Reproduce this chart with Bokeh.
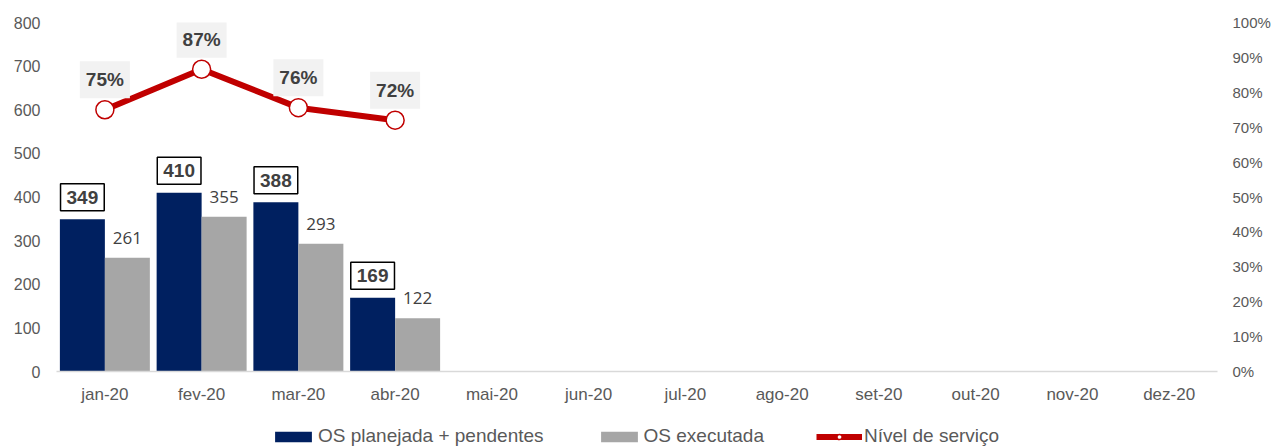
from bokeh.plotting import figure
from bokeh.layouts import column
from bokeh.models import (ColumnDataSource, FactorRange, Range1d, LinearAxis, FixedTicker,
                          NumeralTickFormatter, LabelSet, Label, Legend, LegendItem)
from bokeh.transform import dodge
from bokeh.core.properties import value
from bokeh.embed import file_html
from bokeh.resources import INLINE

# ---- data ----
months = ["jan-20", "fev-20", "mar-20", "abr-20", "mai-20", "jun-20",
          "jul-20", "ago-20", "set-20", "out-20", "nov-20", "dez-20"]
data_months = ["jan-20", "fev-20", "mar-20", "abr-20"]
planned = [349, 410, 388, 169]          # OS planejada + pendentes
executed = [261, 355, 293, 122]         # OS executada
service_level = [0.75, 0.866, 0.756, 0.72]  # Nível de serviço
left_ticks = [0, 100, 200, 300, 400, 500, 600, 700, 800]
right_ticks = [0, 0.1, 0.2, 0.3, 0.4, 0.5, 0.6, 0.7, 0.8, 0.9, 1.0]
series_names = ["OS planejada + pendentes", "OS executada", "Nível de serviço"]

NAVY = "#002060"
GREY = "#A6A6A6"
RED = "#C00000"
TXT = "#595959"
DARK = "#404040"
FONT = "Liberation Sans"

src = ColumnDataSource(dict(
    month=data_months,
    planned=planned,
    executed=executed,
    executed_txt=[str(v) for v in executed],
    level=service_level,
))

p = figure(width=1280, height=410, x_range=FactorRange(*months), y_range=Range1d(0, 800),
           output_backend="svg", toolbar_location=None,
           min_border_left=56, min_border_right=63, min_border_top=22, min_border_bottom=39)
p.outline_line_color = None
p.xgrid.grid_line_color = None
p.ygrid.grid_line_color = None
p.x_range.range_padding = 0
p.extra_y_ranges = {"pct": Range1d(0, 1)}

BW = 0.465
nb = p.vbar(x=dodge("month", -BW / 2, range=p.x_range), top="planned", width=BW,
            source=src, fill_color=NAVY, line_color=None)
gb = p.vbar(x=dodge("month", BW / 2, range=p.x_range), top="executed", width=BW,
            source=src, fill_color=GREY, line_color=None)

ln = p.line(x="month", y="level", source=src, y_range_name="pct",
            line_color=RED, line_width=6)
mk = p.scatter(x="month", y="level", source=src, y_range_name="pct", marker="circle",
               size=18, fill_color="white", line_color=RED, line_width=1.5)

# grey bar labels
p.add_layout(LabelSet(x=dodge("month", BW / 2, range=p.x_range), y="executed", text="executed_txt",
                      source=src, y_offset=20, text_align="center", text_baseline="middle",
                      text_font=value("Open Sans"), text_font_size="17px", text_color=DARK))

# boxed navy labels & percent labels
for i, m in enumerate(data_months):
    xc = months.index(m) + 0.5
    p.add_layout(Label(x=xc - BW / 2, y=planned[i], text=str(planned[i]), y_offset=22,
                       text_align="center", text_baseline="middle",
                       text_font=FONT, text_font_size="19px", text_font_style="bold",
                       text_color=DARK, background_fill_color="white",
                       border_line_color="black", border_line_width=1.5, padding=(6, 7)))
    p.add_layout(Label(x=xc, y=service_level[i], y_range_name="pct",
                       text=f"{round(service_level[i] * 100)}%", y_offset=30,
                       text_align="center", text_baseline="middle",
                       text_font=FONT, text_font_size="19px", text_font_style="bold",
                       text_color=DARK, background_fill_color="#F2F2F2",
                       border_line_color=None, padding=(6, 8)))

# axes
ya = p.yaxis[0]
ya.ticker = FixedTicker(ticks=left_ticks)
ya.axis_line_color = None
ya.major_tick_line_color = None
ya.major_tick_out = 0
ya.minor_tick_line_color = None
ya.major_label_standoff = 16
ya.major_label_text_font = FONT
ya.major_label_text_font_size = "16px"
ya.major_label_text_color = TXT

ra = LinearAxis(y_range_name="pct", ticker=FixedTicker(ticks=right_ticks),
                formatter=NumeralTickFormatter(format="0%"))
ra.axis_line_color = None
ra.major_tick_line_color = None
ra.major_tick_out = 0
ra.minor_tick_line_color = None
ra.major_label_standoff = 15
ra.major_label_text_font = FONT
ra.major_label_text_font_size = "15px"
ra.major_label_text_color = TXT
p.add_layout(ra, "right")

xa = p.xaxis[0]
xa.axis_line_color = "#D9D9D9"
xa.axis_line_width = 1.5
xa.major_tick_line_color = None
xa.major_tick_out = 0
xa.minor_tick_line_color = None
xa.major_label_standoff = 13
xa.major_label_text_font = FONT
xa.major_label_text_font_size = "17px"
xa.major_label_text_color = TXT

# ---- legend strip (separate small figure so the legend is not clipped) ----
lg = figure(width=1280, height=37, x_range=Range1d(0, 1), y_range=Range1d(0, 1),
            output_backend="svg", toolbar_location=None,
            x_axis_type=None, y_axis_type=None,
            min_border_left=0, min_border_right=0, min_border_top=0, min_border_bottom=0)
lg.outline_line_color = None
lg.xgrid.grid_line_color = None
lg.ygrid.grid_line_color = None
nan = float("nan")
lsrc = ColumnDataSource(dict(x=[nan], y=[nan]))
lnb = lg.vbar(x="x", top="y", width=0.1, source=lsrc, fill_color=NAVY, line_color=None)
lgb = lg.vbar(x="x", top="y", width=0.1, source=lsrc, fill_color=GREY, line_color=None)
lln = lg.line(x="x", y="y", source=lsrc, line_color=RED, line_width=6)
lmk = lg.scatter(x="x", y="y", source=lsrc, marker="circle", size=18, fill_color="white",
                 line_color=RED, line_width=1.5)

legend = Legend(items=[
    LegendItem(label=series_names[0], renderers=[lnb]),
    LegendItem(label=series_names[1], renderers=[lgb]),
    LegendItem(label=series_names[2], renderers=[lln, lmk]),
], orientation="horizontal", location=(214, 0))
legend.border_line_color = None
legend.background_fill_alpha = 0
legend.padding = 0
legend.margin = 0
legend.spacing = 52
legend.label_standoff = 2
legend.glyph_width = 46
legend.glyph_height = 13
legend.label_text_font = FONT
legend.label_text_font_size = "19px"
legend.label_text_color = TXT
lg.add_layout(legend, "center")

layout = column(p, lg, spacing=0)
open("out.html", "w").write(file_html(layout, INLINE))
